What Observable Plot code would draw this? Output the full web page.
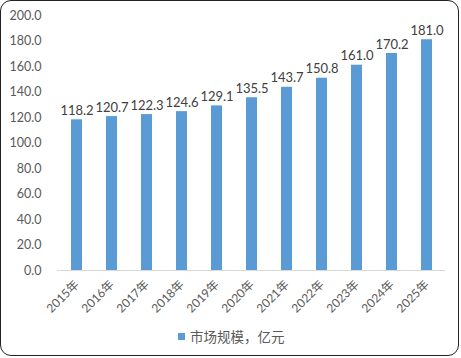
<!DOCTYPE html>
<html>
<head>
<meta charset="utf-8">
<script src="https://cdn.jsdelivr.net/npm/d3@7"></script>
<script src="https://cdn.jsdelivr.net/npm/@observablehq/plot@0.6"></script>
<style>
  html, body { margin: 0; padding: 0; background: #fff; }
  #wrap { position: relative; width: 461px; height: 358px; font-family: Lato, "Noto Sans CJK SC", sans-serif; }
  #chart { position: absolute; left: 0; top: 0; }
  #frame { position: absolute; left: 0; top: 0; width: 457px; height: 354px; border: 1.3px solid #222; border-radius: 11px; pointer-events: none; }
  #legend { position: absolute; left: 178px; top: 326px; display: flex; align-items: center; font-size: 13.5px; color: #595959; }
  #legend .sw { width: 7px; height: 7px; background: #5B9BD5; margin-right: 5px; }
</style>
</head>
<body>
<div id="wrap">
  <div id="chart"></div>
  <div id="legend"><span class="sw"></span><span id="legendText"></span></div>
  <div id="frame"></div>
</div>
<script>
const years = ["2015年","2016年","2017年","2018年","2019年","2020年","2021年","2022年","2023年","2024年","2025年"];
const values = [118.2, 120.7, 122.3, 124.6, 129.1, 135.5, 143.7, 150.8, 161.0, 170.2, 181.0];
const yTicks = [0, 20, 40, 60, 80, 100, 120, 140, 160, 180, 200];
const seriesName = "市场规模，亿元";

const data = years.map((y, i) => ({year: y, value: values[i]}));

const chart = Plot.plot({
  width: 461,
  height: 322,
  marginLeft: 57,
  marginRight: 16,
  marginTop: 15,
  marginBottom: 52,
  style: {fontFamily: 'Lato, "Noto Sans CJK SC", sans-serif', color: "#595959", background: "transparent"},
  x: {domain: years, paddingInner: 0.69, paddingOuter: 0.345, label: null},
  y: {domain: [0, 200], label: null},
  marks: [
    Plot.axisY({ticks: yTicks, tickFormat: d => d.toFixed(1), tickSize: 0, tickPadding: 16, fontSize: 12.5, label: null}),
    Plot.axisX({tickSize: 0, tickPadding: 12, tickRotate: -45, fontSize: 12, label: null}),
    Plot.barY(data, {x: "year", y: "value", fill: "#5B9BD5"}),
    Plot.ruleY([0], {stroke: "#d9d9d9", strokeWidth: 1}),
    Plot.text(data, {x: "year", y: "value", text: d => d.value.toFixed(1), dy: -9, fill: "#404040", fontSize: 13})
  ]
});
document.getElementById("chart").appendChild(chart);
document.getElementById("legendText").textContent = seriesName;
</script>
</body>
</html>
